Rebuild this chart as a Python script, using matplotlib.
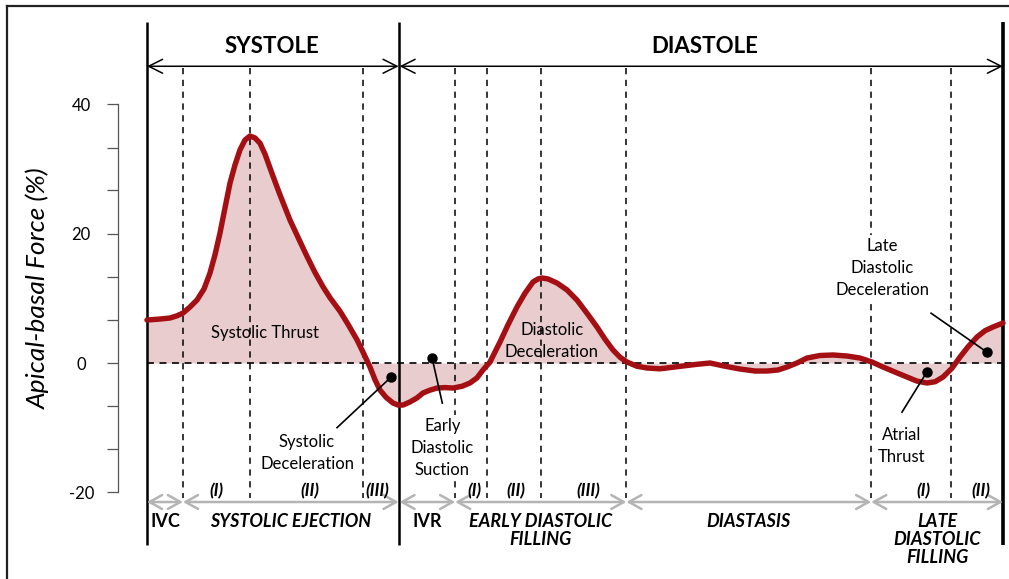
#!/usr/bin/env python3
# Apical-basal force over one cardiac cycle, with phase annotations.

import matplotlib
matplotlib.use("Agg")
import matplotlib.pyplot as plt
from matplotlib.lines import Line2D

plt.rcParams["font.family"] = ["Lato", "DejaVu Sans"]
plt.rcParams["lines.scale_dashes"] = False

# --- data (time in % of cycle, force in %) ---
time_pct = [0.00, 1.52, 2.69, 3.50, 4.21, 5.02, 5.84, 6.66, 7.36, 7.94,
            8.53, 9.11, 9.70, 10.28, 10.86, 11.45, 12.03, 12.62, 13.20, 13.79,
            14.72, 15.54, 16.71, 17.87, 18.69, 19.63, 20.56, 21.38, 22.55, 23.48,
            24.53, 25.23, 26.05, 26.64, 27.22, 27.92, 28.74, 29.32, 29.91, 30.72,
            31.54, 32.24, 33.06, 33.88, 34.81, 35.75, 36.80, 37.73, 38.55, 39.25,
            40.07, 40.65, 41.24, 42.17, 43.22, 44.16, 45.09, 45.68, 46.14, 46.85,
            47.90, 49.07, 50.23, 51.40, 52.57, 53.50, 54.44, 55.26, 56.07, 57.24,
            58.41, 59.93, 62.62, 64.25, 65.77, 67.52, 69.28, 71.03, 72.43, 73.71,
            74.77, 75.93, 77.10, 78.62, 80.14, 81.78, 83.29, 84.70, 85.98, 87.38,
            88.79, 89.95, 91.12, 92.06, 92.99, 94.04, 94.98, 95.91, 96.96, 97.90,
            98.83, 100.00]
force = [6.65, 6.8, 6.96, 7.3, 7.73, 8.66, 9.74, 11.45, 13.92, 16.71,
         20.11, 23.97, 27.84, 30.63, 32.95, 34.50, 35.11, 34.81, 34.0, 32.3,
         28.9, 26.0, 22.1, 18.8, 16.5, 14.0, 11.8, 10.1, 8.0, 6.0,
         3.6, 1.7, -0.62, -2.6, -4.18, -5.3, -6.19, -6.5, -6.5, -6.03,
         -5.4, -4.64, -4.2, -3.87, -3.8, -3.87, -3.6, -3.09, -2.3, -1.08,
         0.15, 1.7, 3.25, 5.9, 8.66, 10.8, 12.53, 13.0, 13.15, 13.0,
         12.37, 11.3, 9.74, 7.7, 5.57, 3.7, 2.01, 0.9, 0.15, -0.5,
         -0.77, -0.9, -0.46, -0.2, 0.0, -0.5, -0.93, -1.24, -1.24, -1.08,
         -0.62, 0.0, 0.77, 1.16, 1.24, 1.08, 0.77, 0.15, -0.62, -1.4,
         -2.17, -2.8, -3.09, -2.9, -2.17, -0.8, 0.93, 2.5, 4.02, 5.0,
         5.57, 6.19]

cycle_bounds = [0.0, 29.4, 100.0]           # start, end systole, end diastole
sub_phase_lines = [4.2, 12.0, 25.2, 36.0, 39.7, 46.0, 56.0, 84.6, 93.9]
y_ticks = [-20, -13.3, -6.7, 0, 6.7, 13.3, 20, 26.7, 33.3, 40]
y_ticklabels = ["-20", "", "", "0", "", "", "20", "", "", "40"]

phase_names = ["SYSTOLE", "DIASTOLE"]
bottom_phases = [  # (start, end, label)
    (0.0, 4.2, "IVC"),
    (4.2, 29.4, "SYSTOLIC EJECTION"),
    (29.5, 36.0, "IVR"),
    (36.0, 56.0, "EARLY DIASTOLIC\nFILLING"),
    (56.0, 84.6, "DIASTASIS"),
    (84.6, 100.0, "LATE\nDIASTOLIC\nFILLING"),
]
sub_labels = [(8.1, "(I)"), (19.0, "(II)"), (26.9, "(III)"),
              (38.2, "(I)"), (43.1, "(II)"), (51.6, "(III)"),
              (90.7, "(I)"), (97.4, "(II)")]

# annotations: (dot, line end, text position, text)
pointers = [
    ((28.5, -2.2), (22.2, -10.0), (18.7, -13.9), "Systolic\nDeceleration"),
    ((33.3, 0.8), (34.5, -6.2), (34.5, -13.1), "Early\nDiastolic\nSuction"),
    ((91.1, -1.4), (88.2, -7.6), (88.2, -12.8), "Atrial\nThrust"),
    ((98.1, 1.7), (91.6, 7.7), (85.9, 14.7), "Late\nDiastolic\nDeceleration"),
]
area_labels = [((13.8, 4.6), "Systolic Thrust"),
               ((47.3, 3.4), "Diastolic\nDeceleration")]

RED = "#a30f12"
PINK = "#e9cccd"
GREY = "#b4b4b4"

fig = plt.figure(figsize=(10.09, 5.79), dpi=100)
ax = fig.add_axes([0, 0, 1, 1])
ax.set_xlim(-17.17, 100.70)
ax.set_ylim(-33.41, 56.15)
ax.patch.set_alpha(0)

# outer frame (top and left edges visible)
fig.add_artist(Line2D([7 / 1009, 1], [1 - 6 / 579] * 2, transform=fig.transFigure,
                      color="#222222", lw=1.6))
fig.add_artist(Line2D([7 / 1009] * 2, [0, 1 - 6 / 579], transform=fig.transFigure,
                      color="#222222", lw=1.6))

# y axis
for side in ["top", "right", "bottom"]:
    ax.spines[side].set_visible(False)
ax.spines["left"].set_position(("data", -3.4))
ax.spines["left"].set_bounds(-20, 40)
ax.spines["left"].set_color("#555555")
ax.spines["left"].set_linewidth(0.9)
ax.set_xticks([])
ax.set_yticks(y_ticks)
ax.set_yticklabels(y_ticklabels)
ax.tick_params(axis="y", length=7.9, width=0.9, color="#555555", pad=18.5,
               labelsize=12)
plt.setp(ax.get_yticklabels(), ha="center")
ax.text(-12.7, 11.6, "Apical-basal Force (%)", rotation=90, style="italic",
        fontsize=19, ha="center", va="center")

# fill + zero line + phase lines
ax.fill_between(time_pct, force, 0, color=PINK, lw=0, zorder=1)
ax.plot([0, 100], [0, 0], color="black", lw=1.2, dashes=(5, 4), zorder=2)
for x in sub_phase_lines:
    ax.plot([x, x], [45.6, -20.9], color="black", lw=1.1, dashes=(4.5, 4),
            zorder=2)
for x in cycle_bounds:
    ax.plot([x, x], [52.8, -28.2], color="black", lw=1.8 if x < 100 else 2.6,
            zorder=3, solid_capstyle="butt")

# curve
ax.plot(time_pct, force, color=RED, lw=3.9, solid_joinstyle="round",
        solid_capstyle="round", zorder=4)

# top arrows
arrow_top = dict(arrowstyle="<->,head_length=10,head_width=5", color="black",
                 lw=1.1, shrinkA=0, shrinkB=0, mutation_scale=1)
ax.annotate("", xy=(cycle_bounds[1], 45.9), xytext=(cycle_bounds[0], 45.9),
            arrowprops=arrow_top)
ax.annotate("", xy=(cycle_bounds[2], 45.9), xytext=(cycle_bounds[1] + 0.1, 45.9),
            arrowprops=arrow_top)
ax.text(14.6, 48.9, phase_names[0], fontsize=16, fontweight="bold",
        ha="center", va="center")
ax.text(65.2, 48.9, phase_names[1], fontsize=16, fontweight="bold",
        ha="center", va="center")

# bottom phase arrows and labels
arrow_bot = dict(arrowstyle="<->,head_length=9,head_width=5", color=GREY,
                 lw=1.8, shrinkA=0, shrinkB=0, mutation_scale=1)
for x0, x1, label in bottom_phases:
    ax.annotate("", xy=(x1, -21.5), xytext=(x0, -21.5), arrowprops=arrow_bot,
                zorder=3)
    italic = label not in ("IVC", "IVR")
    ax.text((x0 + x1) / 2, -23.2, label, fontsize=13, fontweight="bold",
            style="italic" if italic else "normal", ha="center", va="top",
            linespacing=1.08)
for x, label in sub_labels:
    ax.text(x, -19.8, label, fontsize=12.5, fontweight="bold", style="italic",
            ha="center", va="center")

# pointer annotations
for dot, end, txt_xy, txt in pointers:
    ax.plot([dot[0], end[0]], [dot[1], end[1]], color="black", lw=1.2, zorder=5)
    ax.plot(*dot, "o", color="black", ms=6.5, zorder=6)
    ax.text(*txt_xy, txt, fontsize=12, ha="center", va="center",
            linespacing=1.45, zorder=6,
            bbox=dict(facecolor="white", edgecolor="none", pad=2))
for xy, txt in area_labels:
    ax.text(*xy, txt, fontsize=12, ha="center", va="center",
            linespacing=1.4, zorder=6)

fig.savefig("out.png", dpi=100, facecolor="white")
